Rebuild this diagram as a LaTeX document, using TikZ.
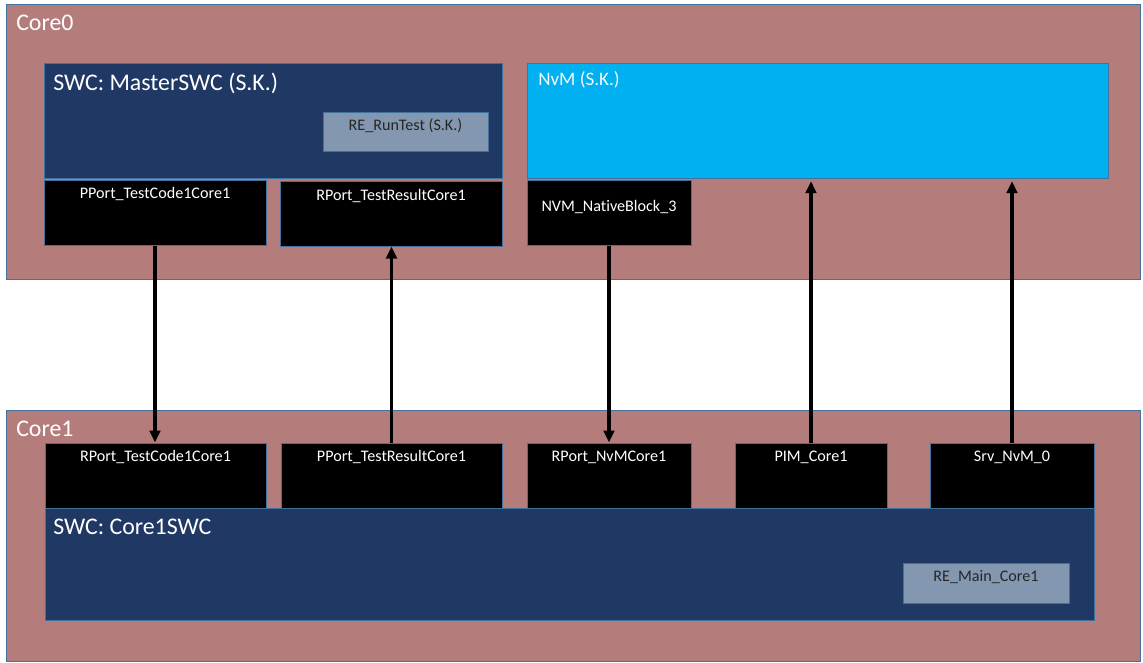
\documentclass[tikz,border=0pt]{standalone}
\usepackage{fontspec}
\setmainfont{Carlito}[Ligatures=NoCommon]
\usetikzlibrary{arrows.meta,fit,calc}
\definecolor{CoreClr}{HTML}{B47C7A}
\definecolor{SwcClr}{HTML}{203864}
\definecolor{RunClr}{HTML}{8497B0}
\definecolor{NvmClr}{HTML}{00B0F0}
\definecolor{EdgeClr}{HTML}{41719C}

\tikzset{
  box/.style={draw=EdgeClr,line width=0.75pt,inner sep=0pt},
  core/.style={box,fill=CoreClr},
  swc/.style={box,fill=SwcClr},
  port/.style={box,fill=black,text=white,font=\fontsize{12.1pt}{14pt}\selectfont},
  runbox/.style={box,fill=RunClr,text=black!85,font=\fontsize{12.1pt}{14pt}\selectfont},
  biglbl/.style={text=white,font=\fontsize{17.9pt}{20pt}\selectfont,anchor=base west,inner sep=0pt},
  portlbl/.style={text=white,font=\fontsize{12.1pt}{14pt}\selectfont,anchor=base,inner sep=0pt},
  conn/.style={line width=2.5pt,-{Triangle[length=9pt,width=8pt]}}
}

\begin{document}
\begin{tikzpicture}[x=0.75pt,y=-0.75pt]
\fill[white] (0,0) rectangle (1143,662);
\useasboundingbox (0,0) rectangle (1143,662);

% Core0
\node[core,fit={(6,4) (1140,279)}] (core0) {};
\node[biglbl] (core0-t) at (16,30) {Core0};

\node[swc,fit={(44,63) (502,178)}] (master) {};
\node[biglbl] (master-t) at (53,90) {SWC: MasterSWC (S.K.)};
\node[runbox,fit={(323,112) (488,151)}] (runtest) {RE\_RunTest (S.K.)};

\node[box,fill=NvmClr,fit={(527,63) (1108,178)}] (nvm) {};
\node[biglbl,text=white!95!NvmClr,font=\fontsize{14.3pt}{17pt}\selectfont] (nvm-t) at (538,85) {NvM (S.K.)};

\node[port,fit={(44,180) (266,245)}] (pTC) {};
\node[portlbl] (pTC-t) at ($(pTC.north)+(0,19)$) {PPort\_TestCode1Core1};
\node[port,fit={(280,181) (502,246)}] (rTR) {};
\node[portlbl] (rTR-t) at ($(rTR.north)+(0,20)$) {RPort\_TestResultCore1};
\node[port,fit={(527,180) (691,245)}] (nvblk) {NVM\_NativeBlock\_3};

% Core1
\node[core,fit={(6,410) (1140,661)}] (core1) {};
\node[biglbl] (core1-t) at (16,436) {Core1};

\node[swc,fit={(45,508) (1094,620)}] (c1swc) {};
\node[biglbl] (c1swc-t) at (53,534) {SWC: Core1SWC};
\node[runbox,fit={(903,563) (1069,603)}] (remain) {RE\_Main\_Core1};

\node[port,fit={(45,443) (266,508)}] (rTC) {};
\node[portlbl] (rTC-t) at ($(rTC.north)+(0,19)$) {RPort\_TestCode1Core1};
\node[port,fit={(281,443) (502,508)}] (pTR) {};
\node[portlbl] (pTR-t) at ($(pTR.north)+(0,19)$) {PPort\_TestResultCore1};
\node[port,fit={(527,443) (691,508)}] (rNvM) {};
\node[portlbl] (rNvM-t) at ($(rNvM.north)+(0,19)$) {RPort\_NvMCore1};
\node[port,fit={(735,443) (887,508)}] (pim) {};
\node[portlbl] (pim-t) at ($(pim.north)+(0,19)$) {PIM\_Core1};
\node[port,fit={(930,443) (1094,508)}] (srv) {};
\node[portlbl] (srv-t) at ($(srv.north)+(0,19)$) {Srv\_NvM\_0};

% connections
\draw[conn] (pTC.south) -- (pTC.south |- rTC.north);
\draw[conn] (pTR.north) -- (pTR.north |- rTR.south);
\draw[conn] (nvblk.south) -- (nvblk.south |- rNvM.north);
\draw[conn,shorten >=2pt] (pim.north) -- (pim.north |- nvm.south);
\draw[conn,shorten >=2pt] (srv.north) -- (srv.north |- nvm.south);

\end{tikzpicture}
\end{document}
